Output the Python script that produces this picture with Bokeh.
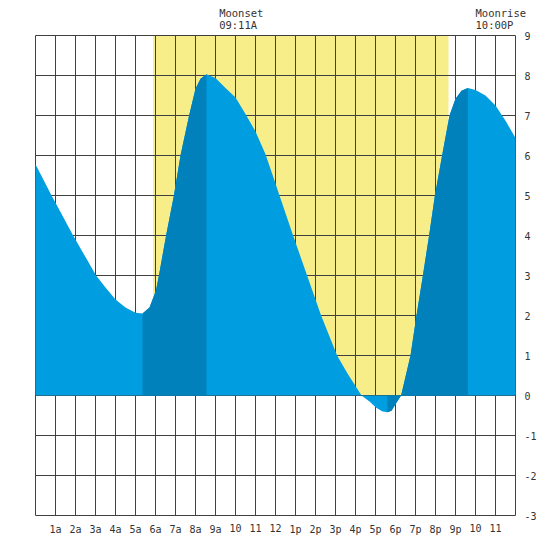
import numpy as np
from bokeh.plotting import figure
from bokeh.models import Range1d
from bokeh.embed import file_html
from bokeh.resources import INLINE

# Tide heights (ft), hours after midnight
tide_hours = [0.0, 0.8, 1.0, 1.88, 2.5, 3.03, 3.5, 4.0, 4.5, 5.0, 5.35, 5.7,
              6.02, 6.17, 6.53, 6.92, 7.25, 7.68, 8.0, 8.25, 8.55, 9.0, 9.5,
              10.0, 10.5, 11.0, 11.5, 12.0, 12.2, 12.88, 13.58, 14.28, 15.08, 15.6,
              16.3, 16.7, 17.02, 17.35, 17.6, 17.8, 18.0, 18.28, 18.75, 19.05,
              19.37, 19.68, 19.97, 20.33, 20.7, 21.0, 21.3, 21.62, 22.0, 22.5,
              23.0, 23.5, 24.0]
tide_feet = [5.78, 5.0, 4.82, 4.0, 3.46, 3.0, 2.7, 2.4, 2.2, 2.07, 2.05, 2.2,
             2.62, 3.0, 4.0, 5.0, 6.0, 7.0, 7.67, 7.92, 8.03, 7.94, 7.69,
             7.45, 7.04, 6.6, 6.03, 5.3, 5.0, 4.0, 3.0, 2.0, 1.0, 0.55,
             0.0, -0.15, -0.3, -0.4, -0.42, -0.38, -0.22, 0.0, 1.0, 2.0,
             3.0, 4.0, 5.0, 6.0, 7.0, 7.42, 7.62, 7.69, 7.64, 7.5,
             7.25, 6.87, 6.44]

low_hours = [5.35, 17.6]
high_hours = [8.55, 21.62]

sunrise_hour = 5.88
sunset_hour = 20.65

moon_events = ["Moonset", "Moonrise"]
moon_hours = [9.183, 22.0]
moon_times = ["09:11A", "10:00P"]

grid_hours = list(range(0, 25))
hour_ticks = list(range(1, 24))
hour_labels = ["1a", "2a", "3a", "4a", "5a", "6a", "7a", "8a", "9a", "10", "11",
               "12", "1p", "2p", "3p", "4p", "5p", "6p", "7p", "8p", "9p", "10", "11"]
feet_ticks = list(range(-3, 10))
feet_labels = [str(v) for v in feet_ticks]

LIGHT = "#009DE0"
DARK = "#0081BC"
YELLOW = "#F7EE8A"
GRID = "#404040"
TEXT = "#333333"
FONT = "DejaVu Sans Mono"

W, H = 542, 542
PAD_L, PAD_T = 35, 35
PX_X, PX_Y = 20.0, 40.0  # pixels per hour / per foot
x0 = min(grid_hours) - PAD_L / PX_X
x1 = x0 + W / PX_X
y1 = max(feet_ticks) + PAD_T / PX_Y
y0 = y1 - H / PX_Y

p = figure(width=W, height=H, x_range=Range1d(x0, x1), y_range=Range1d(y0, y1),
           output_backend="svg", toolbar_location=None,
           x_axis_location=None, y_axis_location=None)
p.min_border = 0
p.outline_line_color = None
p.grid.visible = False
p.background_fill_color = "white"
p.border_fill_color = "white"

ymin, ymax = min(feet_ticks), max(feet_ticks)
xmin, xmax = min(grid_hours), max(grid_hours)

# daylight
p.quad(left=[sunrise_hour], right=[sunset_hour], bottom=[0], top=[ymax],
       fill_color=YELLOW, line_color=None)

# grid lines
p.segment(x0=grid_hours, x1=grid_hours, y0=[ymin] * len(grid_hours),
          y1=[ymax] * len(grid_hours), line_color=GRID, line_width=1)
p.segment(x0=[xmin] * len(feet_ticks), x1=[xmax] * len(feet_ticks),
          y0=feet_ticks, y1=feet_ticks, line_color=GRID, line_width=1)

hrs = np.array(tide_hours)
ft = np.array(tide_feet)

# tide fill
p.varea(x=hrs, y1=np.zeros_like(ft), y2=ft, fill_color=LIGHT)
for lo, hi in zip(low_hours, high_hours):
    m = (hrs >= lo) & (hrs <= hi)
    p.varea(x=hrs[m], y1=np.zeros(m.sum()), y2=ft[m], fill_color=DARK)

# tick labels
p.text(x=hour_ticks, y=[ymin] * len(hour_ticks), text=hour_labels,
       y_offset=8, text_align="center", text_baseline="top",
       text_font={"value": FONT}, text_font_size="10px", text_color=TEXT)
p.text(x=[xmax] * len(feet_ticks), y=feet_ticks, text=feet_labels,
       x_offset=9, text_align="left", text_baseline="middle",
       text_font={"value": FONT}, text_font_size="10px", text_color=TEXT)

# moon labels
p.text(x=moon_hours, y=[ymax] * len(moon_hours), text=moon_events,
       y_offset=-23, text_align="left", text_baseline="alphabetic",
       text_font={"value": FONT}, text_font_size="10.5px", text_color=TEXT)
p.text(x=moon_hours, y=[ymax] * len(moon_hours), text=moon_times,
       y_offset=-11, text_align="left", text_baseline="alphabetic",
       text_font={"value": FONT}, text_font_size="10.5px", text_color=TEXT)

open("out.html", "w").write(file_html(p, INLINE))
